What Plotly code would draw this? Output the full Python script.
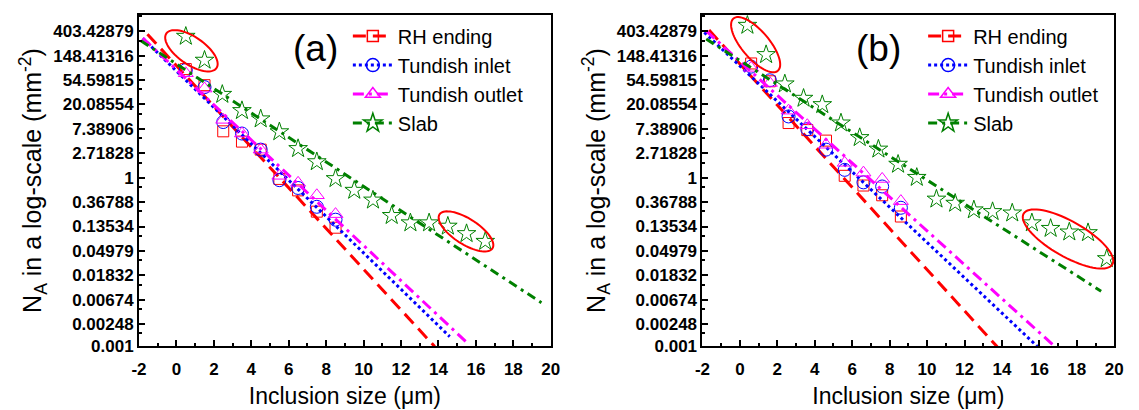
import numpy as np
import plotly.graph_objects as go

# ---------------- data ----------------
sizes_a = [0.5, 1.5, 2.5, 3.5, 4.5, 5.5, 6.5, 7.5, 8.5]
rh_a = [85.6, 44.3, 6.69, 4.39, 3.16, 0.951, 0.595, 0.249, 0.129]
inlet_a = [82.3, 40.9, 9.78, 6.11, 3.16, 0.905, 0.657, 0.304, 0.179]
outlet_a = [72.2, 38.5, 10.7, 6.11, 3.16, 1.08, 0.81, 0.487, 0.225]
slab_x_a = [0.5, 1.5, 2.45, 3.5, 4.5, 5.5, 6.5, 7.5, 8.5, 9.5, 10.5, 11.5, 12.5, 13.5, 14.5, 15.5, 16.5]
slab_a = [327, 122.7, 30.3, 15.6, 11.1, 6.55, 3.29, 1.92, 0.961, 0.595, 0.399, 0.212, 0.157, 0.157, 0.137, 0.101, 0.0735]

sizes_b = [0.6, 1.6, 2.6, 3.6, 4.6, 5.6, 6.6, 7.6, 8.6]
rh_b = [107.8, 51.9, 9.39, 7.03, 4.57, 1.08, 0.726, 0.487, 0.204]
inlet_b = [94.6, 54.1, 12.3, 7.32, 3.16, 1.38, 0.827, 0.698, 0.292]
outlet_b = [90.0, 48.4, 15.6, 8.58, 3.86, 1.84, 1.23, 0.951, 0.383]
slab_x_b = [0.4, 1.4, 2.4, 3.4, 4.4, 5.4, 6.4, 7.4, 8.45, 9.45, 10.5, 11.5, 12.5, 13.5, 14.55, 15.6, 16.6, 17.6, 18.6, 19.6]
slab_b = [512.9, 154.5, 46.5, 25.8, 19.9, 9.39, 5.16, 3.22, 1.73, 1.01, 0.415, 0.350, 0.267, 0.249, 0.235, 0.157, 0.125, 0.108, 0.105, 0.0362]

# fitted lines (endpoints)
fit_rh_a_x, fit_rh_a_y = [-1.55, 13.8], [358, 0.00099]
fit_in_a_x, fit_in_a_y = [-1.8, 14.6], [302, 0.00149]
fit_out_a_x, fit_out_a_y = [-1.8, 15.6], [305, 0.0011]
fit_slab_a_x, fit_slab_a_y = [-1.9, 19.5], [273, 0.00598]

fit_rh_b_x, fit_rh_b_y = [-1.65, 13.75], [424, 0.00098]
fit_in_b_x, fit_in_b_y = [-1.9, 15.9], [384, 0.00099]
fit_out_b_x, fit_out_b_y = [-1.8, 16.8], [408, 0.00101]
fit_slab_b_x, fit_slab_b_y = [-1.8, 19.3], [293, 0.00956]

ytick_vals = [0.001, 0.00248, 0.00674, 0.01832, 0.04979, 0.13534, 0.36788, 1,
              2.71828, 7.38906, 20.08554, 54.59815, 148.41316, 403.42879]
ytick_text = ["0.001", "0.00248", "0.00674", "0.01832", "0.04979", "0.13534", "0.36788", "1",
              "2.71828", "7.38906", "20.08554", "54.59815", "148.41316", "403.42879"]
xtick_vals = [-2, 0, 2, 4, 6, 8, 10, 12, 14, 16, 18, 20]
xtick_text = ["-2", "0", "2", "4", "6", "8", "10", "12", "14", "16", "18", "20"]
series_names = ["RH ending", "Tundish inlet", "Tundish outlet", "Slab"]

# ---------------- style ----------------
W, H = 1139, 410
RED, BLUE, MAG, GREEN = "#FF0000", "#0000FF", "#FF00FF", "#008000"
FONT = "Liberation Sans, Arial, sans-serif"
dom_a = [133 / W, 551 / W]
dom_b = [705 / W, 1123 / W]
dom_y = [(H - 355) / H, (H - 15) / H]
LN_MIN, LN_MAX = np.log(0.001), 6.68
yrange = [np.log10(0.001), LN_MAX / np.log(10)]

fig = go.Figure()

styles = [
    dict(color=RED, dash="13px,7px", symbol="square-open", size=11),
    dict(color=BLUE, dash="dot", symbol="circle-open", size=13),
    dict(color=MAG, dash="11px,5px,3px,5px", symbol="triangle-up-open", size=13),
    dict(color=GREEN, dash="9px,5px,3px,5px", symbol="star-open", size=14),
]


def add_panel(xa, ya, legend, pts, fits):
    for (px, py), (fx, fy), st in zip(pts, fits, styles):
        fig.add_trace(go.Scatter(x=fx, y=fy, mode="lines", xaxis=xa, yaxis=ya,
                                 line=dict(color=st["color"], dash=st["dash"], width=3),
                                 showlegend=False, hoverinfo="skip"))
        fig.add_trace(go.Scatter(x=px, y=py, mode="markers", xaxis=xa, yaxis=ya,
                                 marker=dict(color=st["color"], symbol=st["symbol"], size=st["size"],
                                             line=dict(color=st["color"], width=1)),
                                 showlegend=False))
    for st, name in zip(styles, series_names):
        fig.add_trace(go.Scatter(x=[None], y=[None], mode="lines+markers", xaxis=xa, yaxis=ya,
                                 name=name, legend=legend,
                                 line=dict(color=st["color"], dash=st["dash"], width=3),
                                 marker=dict(color=st["color"], symbol=st["symbol"], size=st["size"],
                                             line=dict(color=st["color"], width=1.5))))


add_panel("x", "y", "legend",
          [(sizes_a, rh_a), (sizes_a, inlet_a), (sizes_a, outlet_a), (slab_x_a, slab_a)],
          [(fit_rh_a_x, fit_rh_a_y), (fit_in_a_x, fit_in_a_y), (fit_out_a_x, fit_out_a_y),
           (fit_slab_a_x, fit_slab_a_y)])
add_panel("x2", "y2", "legend2",
          [(sizes_b, rh_b), (sizes_b, inlet_b), (sizes_b, outlet_b), (slab_x_b, slab_b)],
          [(fit_rh_b_x, fit_rh_b_y), (fit_in_b_x, fit_in_b_y), (fit_out_b_x, fit_out_b_y),
           (fit_slab_b_x, fit_slab_b_y)])

minor_y = [(np.exp(k) + np.exp(k - 1)) / 2 for k in range(-6, 8)]

xaxis_common = dict(range=[-2, 20], tickvals=xtick_vals, ticktext=xtick_text,
                    showline=True, linewidth=2, linecolor="black",
                    mirror=True, ticks="inside", ticklen=6, tickwidth=2, tickcolor="black",
                    ticklabelstandoff=6,
                    showgrid=False, zeroline=False,
                    tickfont=dict(family=FONT, size=17, color="black", weight="bold"),
                    minor=dict(tickvals=list(range(-1, 21, 2)), ticks="inside", ticklen=3,
                               tickwidth=2, tickcolor="black", showgrid=False),
                    title=dict(text="Inclusion size (μm)", font=dict(family=FONT, size=23, color="black"),
                               standoff=10))
yaxis_common = dict(type="log", range=yrange, tickvals=ytick_vals, ticktext=ytick_text,
                    showline=True, linewidth=2, linecolor="black", mirror=True,
                    ticks="inside", ticklen=6, tickwidth=2, tickcolor="black",
                    showgrid=False, zeroline=False,
                    tickfont=dict(family=FONT, size=17, color="black", weight="bold"),
                    minor=dict(tickvals=minor_y, ticks="inside", ticklen=3, tickwidth=2,
                               tickcolor="black", showgrid=False),
                    title=dict(text="N<sub>A</sub> in a log-scale (mm<sup>-2</sup>)",
                               font=dict(family=FONT, size=25, color="black"), standoff=4))

fig.update_layout(
    width=W, height=H, margin=dict(l=0, r=0, t=0, b=0),
    paper_bgcolor="white", plot_bgcolor="white",
    xaxis=dict(domain=dom_a, anchor="y", **xaxis_common),
    yaxis=dict(domain=dom_y, anchor="x", **yaxis_common),
    xaxis2=dict(domain=dom_b, anchor="y2", **xaxis_common),
    yaxis2=dict(domain=dom_y, anchor="x2", **yaxis_common),
    legend=dict(x=345 / W, y=1 - 17 / H, xanchor="left", yanchor="top",
                font=dict(family=FONT, size=20, color="black"), bgcolor="rgba(0,0,0,0)", itemwidth=40),
    legend2=dict(x=929 / W, y=1 - 17 / H, xanchor="left", yanchor="top",
                 font=dict(family=FONT, size=20, color="black"), bgcolor="rgba(0,0,0,0)", itemwidth=40),
    showlegend=True,
)

# panel labels
for xpix, txt in [(312, "(a)"), (884, "(b)")]:
    fig.add_annotation(x=xpix / W, y=1 - 50 / H, xref="paper", yref="paper", text=txt,
                       xanchor="center", yanchor="middle",
                       showarrow=False, font=dict(family=FONT, size=37, color="black"))


# red ellipses around highlighted stars (centre in data units, semi-axes in pixels)
def ellipse(xref, yref, cx, cln, a, b, theta_deg):
    pw, ph = 418.0, 340.0
    dx0 = (cx + 2) / 22.0
    dy0 = (cln - LN_MIN) / (LN_MAX - LN_MIN)
    t = np.linspace(0, 2 * np.pi, 73)
    th = np.radians(theta_deg)
    ex = a * np.cos(t) * np.cos(th) + b * np.sin(t) * np.sin(th)
    ey = -a * np.cos(t) * np.sin(th) + b * np.sin(t) * np.cos(th)
    xs = dx0 + ex / pw
    ys = dy0 + ey / ph
    path = "M " + " L ".join(f"{x:.5f},{y:.5f}" for x, y in zip(xs, ys)) + " Z"
    fig.add_shape(type="path", path=path, xref=xref, yref=yref,
                  line=dict(color=RED, width=2))


ellipse("x domain", "y domain", 0.8, 5.2, 31, 14, 35)
ellipse("x domain", "y domain", 15.47, -2.2, 32, 13, 33)
ellipse("x2 domain", "y2 domain", 0.84, 5.45, 35, 14, 50)
ellipse("x2 domain", "y2 domain", 17.53, -2.51, 52, 18, 30)

fig.write_html("out.html")
